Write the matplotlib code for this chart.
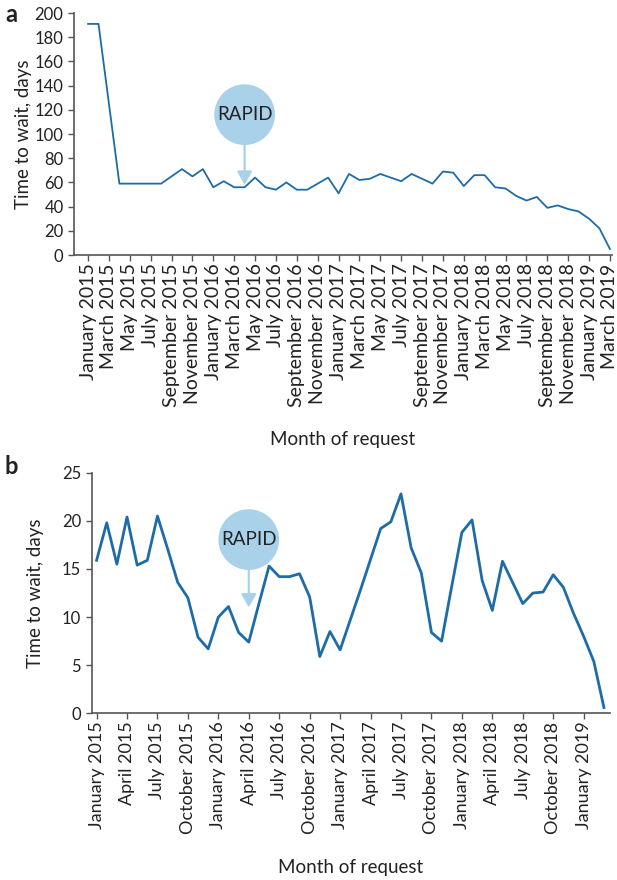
import matplotlib.pyplot as plt

plt.rcParams['font.family'] = ['Lato', 'DejaVu Sans']

# Monthly waiting times, January 2015 to March 2019
months = ['January', 'February', 'March', 'April', 'May', 'June', 'July',
          'August', 'September', 'October', 'November', 'December']
years = [2015, 2016, 2017, 2018, 2019]
month_labels = [m + ' ' + str(y) for y in years for m in months][:51]

wait_a = [191, 191, 125, 59, 59, 59, 59, 59, 65, 71, 65, 71,
          56, 61, 56, 56, 64, 56, 54, 60, 54, 54, 59, 64,
          51, 67, 62, 63, 67, 64, 61, 67, 63, 59, 69, 68,
          57, 66, 66, 56, 55, 49, 45, 48, 39, 41, 38, 36,
          30, 22, 5]

wait_b = [15.9, 19.8, 15.5, 20.4, 15.4, 15.9, 20.5, 17.1, 13.6, 12.0, 7.9, 6.7,
          10.0, 11.1, 8.4, 7.4, 11.4, 15.3, 14.2, 14.2, 14.5, 12.1, 5.9, 8.5,
          6.6, 9.7, 12.8, 16.0, 19.2, 19.9, 22.8, 17.2, 14.6, 8.4, 7.5, 13.2,
          18.8, 20.1, 13.8, 10.7, 15.8, 13.6, 11.4, 12.5, 12.6, 14.4, 13.1, 10.4,
          8.0, 5.4, 0.6]

rapid_month = 15  # April 2016

line_color = '#1d6ca8'
rapid_color = '#a9d2ea'
text_color = '#222222'
spine_color = '#555555'

fig = plt.figure(figsize=(6.17, 8.8), dpi=100)
ax1 = fig.add_axes([0.1199, 0.7102, 0.872, 0.275])
ax2 = fig.add_axes([0.1483, 0.1894, 0.8404, 0.2734])

x = list(range(len(month_labels)))


def style_axes(ax, xsize):
    for side in ['top', 'right']:
        ax.spines[side].set_visible(False)
    for side in ['left', 'bottom']:
        ax.spines[side].set_color(spine_color)
        ax.spines[side].set_linewidth(1.2)
    ax.tick_params(colors=spine_color, labelcolor=text_color,
                   length=4, width=1.0, direction='out')
    ax.tick_params(axis='y', labelsize=12)
    ax.tick_params(axis='x', labelsize=xsize, pad=2)


def rapid(ax, tip, center):
    ax.annotate('RAPID', xy=(rapid_month, tip), xytext=(rapid_month, center),
                ha='center', va='center', fontsize=13.5, color=text_color,
                bbox=dict(boxstyle='circle,pad=0.14', fc=rapid_color, ec='none'),
                arrowprops=dict(arrowstyle='-|>,head_length=0.8,head_width=0.45',
                                color=rapid_color, lw=1.6, mutation_scale=10,
                                shrinkA=0, shrinkB=0))


# panel a
ax1.plot(x, wait_a, color=line_color, lw=1.3)
ax1.set_xlim(-1.35, 50.2)
ax1.set_ylim(0, 200)
ax1.set_yticks(range(0, 201, 20))
ax1.set_xticks(x[::2])
ax1.set_xticklabels(month_labels[::2], rotation=90)
ax1.set_xlabel('Month of request', fontsize=13.5, color=text_color, labelpad=17)
ax1.set_ylabel('Time to wait, days', fontsize=13.5, color=text_color, labelpad=2)
style_axes(ax1, 14)
rapid(ax1, 58, 116)
fig.text(0.008, 0.983, 'a', fontsize=17, fontweight='bold', color=text_color,
         va='center')

# panel b
ax2.plot(x, wait_b, color=line_color, lw=2.0)
ax2.set_xlim(-0.5, 50.6)
ax2.set_ylim(0, 25)
ax2.set_yticks(range(0, 26, 5))
ax2.set_xticks(x[::3])
ax2.set_xticklabels(month_labels[::3], rotation=90)
ax2.set_xlabel('Month of request', fontsize=13.5, color=text_color, labelpad=18)
ax2.set_ylabel('Time to wait, days', fontsize=13.5, color=text_color, labelpad=13)
style_axes(ax2, 13)
rapid(ax2, 11.0, 18.05)
fig.text(0.008, 0.47, 'b', fontsize=17, fontweight='bold', color=text_color,
         va='center')

fig.savefig('out.png', dpi=100)
